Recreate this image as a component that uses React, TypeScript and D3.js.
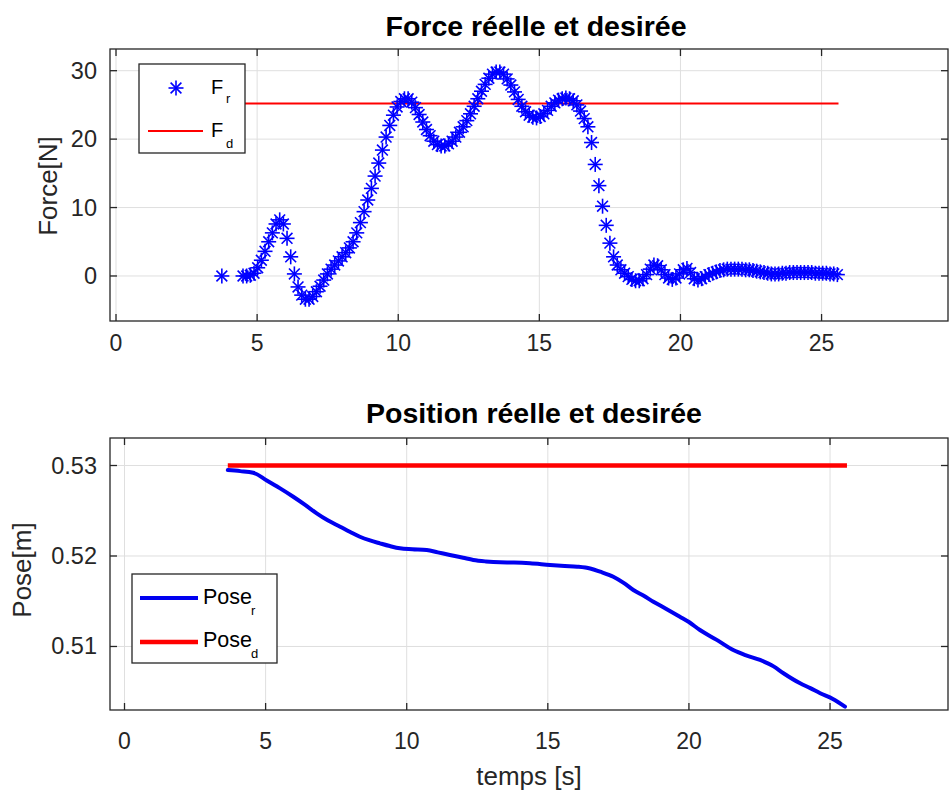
import React from 'react';
import * as d3 from 'd3';

// ---------- data ----------
const xTicks = [0, 5, 10, 15, 20, 25];
const forceTicks = [0, 10, 20, 30];
const poseTicks = [0.51, 0.52, 0.53];
const poseTickLabels = ['0.51', '0.52', '0.53'];

const forceTime = [
  3.75, 4.5, 4.63, 4.76, 4.89, 5.02, 5.15, 5.28, 5.41, 5.54, 5.67, 5.8, 5.93, 6.06, 6.19, 6.32, 6.45, 6.58, 6.71, 6.84,
  6.97, 7.1, 7.23, 7.36, 7.49, 7.62, 7.75, 7.88, 8.01, 8.14, 8.27, 8.4, 8.53, 8.66, 8.79, 8.92, 9.05, 9.18, 9.31, 9.44,
  9.57, 9.7, 9.83, 9.96, 10.09, 10.22, 10.35, 10.48, 10.61, 10.74, 10.87, 11.0, 11.13, 11.26, 11.39, 11.52, 11.65, 11.78, 11.91, 12.04,
  12.17, 12.3, 12.43, 12.56, 12.69, 12.82, 12.95, 13.08, 13.21, 13.34, 13.47, 13.6, 13.73, 13.86, 13.99, 14.12, 14.25, 14.38, 14.51, 14.64,
  14.77, 14.9, 15.03, 15.16, 15.29, 15.42, 15.55, 15.68, 15.81, 15.94, 16.07, 16.2, 16.33, 16.46, 16.59, 16.72, 16.85, 16.98, 17.11, 17.24,
  17.37, 17.5, 17.63, 17.76, 17.89, 18.02, 18.15, 18.28, 18.41, 18.54, 18.67, 18.8, 18.93, 19.06, 19.19, 19.32, 19.45, 19.58, 19.71, 19.84,
  19.97, 20.1, 20.23, 20.36, 20.49, 20.62, 20.75, 20.88, 21.01, 21.14, 21.27, 21.4, 21.53, 21.66, 21.79, 21.92, 22.05, 22.18, 22.31, 22.44,
  22.57, 22.7, 22.83, 22.96, 23.09, 23.22, 23.35, 23.48, 23.61, 23.74, 23.87, 24.0, 24.13, 24.26, 24.39, 24.52, 24.65, 24.78, 24.91, 25.04,
  25.17, 25.3, 25.43, 25.56,
];
const forceReal = [
  0, 0, 0, 0.1, 0.4, 1.2, 2.3, 3.6, 5.0, 6.3, 7.6, 8.2, 7.6, 5.5, 2.8, 0.3, -1.6, -2.8, -3.4, -3.4,
  -3.0, -2.3, -1.5, -0.6, 0.3, 1.0, 1.6, 2.2, 2.8, 3.4, 4.1, 5.0, 6.3, 7.8, 9.4, 11.1, 12.8, 14.6, 16.5, 18.4,
  20.3, 22.0, 23.5, 24.7, 25.5, 25.9, 25.9, 25.4, 24.6, 23.6, 22.5, 21.4, 20.5, 19.7, 19.2, 19.0, 19.0, 19.3, 19.7, 20.3,
  21.0, 21.8, 22.7, 23.7, 24.8, 25.9, 27.0, 28.0, 28.9, 29.5, 29.8, 29.8, 29.5, 28.8, 27.9, 26.9, 25.8, 24.8, 24.0, 23.5,
  23.2, 23.1, 23.3, 23.7, 24.2, 24.8, 25.3, 25.7, 25.9, 26.0, 25.9, 25.6, 25.0, 24.1, 23.0, 21.8, 19.5, 16.3, 13.2, 10.2,
  7.4, 4.8, 2.8, 1.6, 0.9, 0.4, -0.1, -0.5, -0.7, -0.7, -0.4, 0.2, 1.0, 1.6, 1.5, 0.9, 0.2, -0.3, -0.5, -0.3,
  0.3, 0.9, 1.1, 0.5, -0.4, -0.6, -0.4, -0.1, 0.2, 0.4, 0.6, 0.8, 0.9, 1.0, 1.0, 1.0, 1.0, 1.0, 0.9, 0.9,
  0.8, 0.7, 0.6, 0.5, 0.4, 0.3, 0.3, 0.3, 0.4, 0.4, 0.5, 0.5, 0.5, 0.5, 0.5, 0.5, 0.5, 0.4, 0.4, 0.4,
  0.4, 0.3, 0.3, 0.2,
];
const forceDesired = 25.2;
const forceDesiredSpan = [3.75, 25.6];

const poseTime = [
  3.66, 4.1, 4.56, 5.04, 5.5, 5.98, 6.4, 6.81, 7.2, 7.64, 8.0, 8.34, 8.7, 9.05, 9.4, 9.76, 10.2, 10.71, 11.1, 11.53,
  12.0, 12.36, 12.8, 13.31, 13.8, 14.37, 15.08, 15.6, 16.04, 16.5, 16.85, 17.32, 17.7, 18.03, 18.4, 18.74, 19.2, 19.68, 20.0, 20.39,
  21.0, 21.57, 22.0, 22.52, 23.0, 23.35, 23.94, 24.3, 24.65, 25.1, 25.53,
];
const poseReal = [
  0.5295, 0.52938, 0.5292, 0.52835, 0.5275, 0.52655, 0.52565, 0.52472, 0.52395, 0.52324, 0.52265, 0.52213, 0.52172, 0.5214, 0.5211, 0.52085, 0.52075, 0.52066, 0.5204, 0.52011,
  0.5198, 0.51956, 0.5194, 0.5193, 0.51928, 0.5192, 0.51901, 0.5189, 0.51882, 0.51862, 0.51827, 0.51771, 0.517, 0.51624, 0.5156, 0.51495, 0.51415, 0.51329, 0.5127, 0.51182,
  0.5107, 0.50961, 0.50905, 0.50851, 0.5078, 0.50704, 0.50593, 0.5054, 0.50483, 0.5042, 0.50335,
];
const poseDesired = 0.53;
const poseDesiredSpan = [3.66, 25.6];

// ---------- layout ----------
const W = 949;
const H = 799;
const FONT = "'Liberation Sans', Arial, Helvetica, sans-serif";
const AX = '#262626';
const GRID = '#dfdfdf';

const topBox = { left: 110, right: 948, top: 49, bottom: 321 };
const botBox = { left: 110, right: 948, top: 438, bottom: 710 };

const xTop = d3.scaleLinear().domain([-0.213, 29.48]).range([topBox.left, topBox.right]);
const yTop = d3.scaleLinear().domain([-6.58, 33.17]).range([topBox.bottom, topBox.top]);
const xBot = d3.scaleLinear().domain([-0.514, 29.18]).range([botBox.left, botBox.right]);
const yBot = d3.scaleLinear().domain([0.50298, 0.53304]).range([botBox.bottom, botBox.top]);

function Axes({ box, x, y, yTicks, yLabels, xLabelY }: any) {
  const tl = 7;
  return (
    <g>
      {xTicks.map((t) => (
        <line key={'gx' + t} x1={x(t)} x2={x(t)} y1={box.top} y2={box.bottom} stroke={GRID} strokeWidth={1} />
      ))}
      {yTicks.map((t: number) => (
        <line key={'gy' + t} x1={box.left} x2={box.right} y1={y(t)} y2={y(t)} stroke={GRID} strokeWidth={1} />
      ))}
      <rect x={box.left} y={box.top} width={box.right - box.left} height={box.bottom - box.top} fill="none" stroke={AX} strokeWidth={1.3} />
      {xTicks.map((t) => (
        <g key={'tx' + t}>
          <line x1={x(t)} x2={x(t)} y1={box.bottom} y2={box.bottom - tl} stroke={AX} strokeWidth={1.3} />
          <line x1={x(t)} x2={x(t)} y1={box.top} y2={box.top + tl} stroke={AX} strokeWidth={1.3} />
          <text x={x(t)} y={xLabelY} textAnchor="middle" fontFamily={FONT} fontSize={23} fill={AX}>
            {t}
          </text>
        </g>
      ))}
      {yTicks.map((t: number, i: number) => (
        <g key={'ty' + t}>
          <line x1={box.left} x2={box.left + tl} y1={y(t)} y2={y(t)} stroke={AX} strokeWidth={1.3} />
          <line x1={box.right} x2={box.right - tl} y1={y(t)} y2={y(t)} stroke={AX} strokeWidth={1.3} />
          <text x={97} y={y(t) + 8} textAnchor="end" fontFamily={FONT} fontSize={23.5} fill={AX}>
            {yLabels[i]}
          </text>
        </g>
      ))}
    </g>
  );
}

function Star({ cx, cy, r = 7.5, color = '#0000ff' }: any) {
  const d = r * 0.72;
  return (
    <g stroke={color} strokeWidth={1.6}>
      <line x1={cx - r} x2={cx + r} y1={cy} y2={cy} />
      <line x1={cx} x2={cx} y1={cy - r} y2={cy + r} />
      <line x1={cx - d} x2={cx + d} y1={cy - d} y2={cy + d} />
      <line x1={cx - d} x2={cx + d} y1={cy + d} y2={cy - d} />
    </g>
  );
}

export default function App() {
  const poseLine = d3
    .line<number>()
    .x((_, i) => xBot(poseTime[i]))
    .y((v) => yBot(v))
    .curve(d3.curveMonotoneX);

  return (
    <svg width={W} height={H} style={{ position: 'absolute', left: 0, top: 0, background: '#fff' }}>
      <rect x={0} y={0} width={W} height={H} fill="#fff" />

      {/* ---------- top chart ---------- */}
      <text x={536} y={36} textAnchor="middle" fontFamily={FONT} fontSize={28.5} fontWeight="bold" fill="#000">
        Force réelle et desirée
      </text>
      <Axes box={topBox} x={xTop} y={yTop} yTicks={forceTicks} yLabels={forceTicks.map(String)} xLabelY={351} />
      <line
        x1={xTop(forceDesiredSpan[0])}
        x2={xTop(forceDesiredSpan[1])}
        y1={yTop(forceDesired)}
        y2={yTop(forceDesired)}
        stroke="#ff0000"
        strokeWidth={2}
      />
      {forceReal.map((v, i) => (
        <Star key={'s' + i} cx={xTop(forceTime[i])} cy={yTop(v)} />
      ))}
      <text transform="translate(57,186) rotate(-90)" textAnchor="middle" fontFamily={FONT} fontSize={26} fill={AX}>
        Force[N]
      </text>
      {/* legend top */}
      <rect x={139} y={64} width={106} height={89} fill="#fff" stroke={AX} strokeWidth={1.3} />
      <Star cx={176} cy={88} />
      <text x={211} y={94} fontFamily={FONT} fontSize={20} fill="#000">
        F
      </text>
      <text x={226} y={103} fontFamily={FONT} fontSize={13} fill="#000">
        r
      </text>
      <line x1={148} x2={203} y1={131} y2={131} stroke="#ff0000" strokeWidth={2} />
      <text x={211} y={137} fontFamily={FONT} fontSize={20} fill="#000">
        F
      </text>
      <text x={226} y={148} fontFamily={FONT} fontSize={13} fill="#000">
        d
      </text>

      {/* ---------- bottom chart ---------- */}
      <text x={534} y={423} textAnchor="middle" fontFamily={FONT} fontSize={28.5} fontWeight="bold" fill="#000">
        Position réelle et desirée
      </text>
      <Axes box={botBox} x={xBot} y={yBot} yTicks={poseTicks} yLabels={poseTickLabels} xLabelY={749} />
      <path d={poseLine(poseReal) || ''} fill="none" stroke="#0000f0" strokeWidth={4} strokeLinejoin="round" strokeLinecap="round" />
      <line
        x1={xBot(poseDesiredSpan[0])}
        x2={xBot(poseDesiredSpan[1])}
        y1={yBot(poseDesired)}
        y2={yBot(poseDesired)}
        stroke="#ff0000"
        strokeWidth={4.5}
      />
      <text transform="translate(31,570) rotate(-90)" textAnchor="middle" fontFamily={FONT} fontSize={26} fill={AX}>
        Pose[m]
      </text>
      <text x={529} y={785} textAnchor="middle" fontFamily={FONT} fontSize={26} fill={AX}>
        temps [s]
      </text>
      {/* legend bottom */}
      <rect x={132} y={574} width={145} height={89} fill="#fff" stroke={AX} strokeWidth={1.3} />
      <line x1={140} x2={198} y1={598} y2={598} stroke="#0000f0" strokeWidth={4} />
      <text x={203} y={604} fontFamily={FONT} fontSize={21.5} fill="#000">
        Pose
      </text>
      <text x={251} y={615} fontFamily={FONT} fontSize={13} fill="#000">
        r
      </text>
      <line x1={140} x2={198} y1={642} y2={642} stroke="#ff0000" strokeWidth={4.5} />
      <text x={203} y={647} fontFamily={FONT} fontSize={21.5} fill="#000">
        Pose
      </text>
      <text x={251} y={658} fontFamily={FONT} fontSize={13} fill="#000">
        d
      </text>
    </svg>
  );
}
